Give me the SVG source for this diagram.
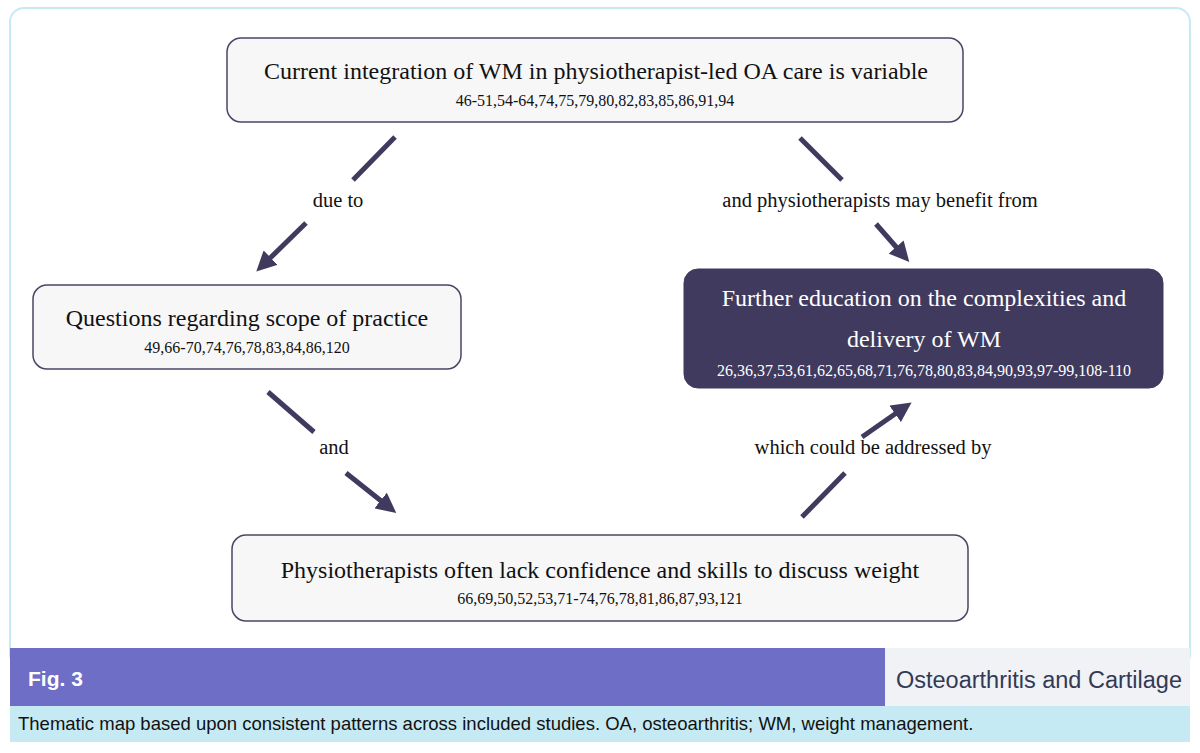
<svg xmlns="http://www.w3.org/2000/svg" width="1200" height="753" viewBox="0 0 1200 753">
<style>
.box{fill:#f7f7f8;stroke:#4a4566;stroke-width:1.5}
.t{font-family:"Liberation Serif",serif;fill:#111;text-anchor:middle}
.big{font-size:24px}.ref{font-size:16px}.lbl{font-size:20.5px}
.w{fill:#fff}
.c{stroke:#3f3a5e;stroke-width:5;fill:none}
</style>
<defs>
<marker id="ah" viewBox="0 0 10 10" refX="6" refY="5" markerWidth="4" markerHeight="4" orient="auto" markerUnits="strokeWidth"><path d="M0,0L10,5L0,10z" fill="#3f3a5e"/></marker>
</defs>
<rect width="1200" height="753" fill="#fff"/>
<rect x="10" y="8" width="1180" height="660" rx="14" fill="#fff" stroke="#c5eaf4" stroke-width="2"/>
<rect x="10" y="648" width="875" height="58" fill="#6e6ec6"/>
<rect x="885" y="648" width="305" height="58" fill="#f1f2f5"/>
<text x="28" y="686" font-family="Liberation Sans,sans-serif" font-size="21" font-weight="bold" fill="#fff">Fig. 3</text>
<text x="1182" y="688" font-family="Liberation Sans,sans-serif" font-size="23.5" fill="#333a55" text-anchor="end">Osteoarthritis and Cartilage</text>
<rect x="10" y="706" width="1180" height="36" fill="#c5eaf4"/>
<text x="18" y="730" font-family="Liberation Sans,sans-serif" font-size="18.5" fill="#111">Thematic map based upon consistent patterns across included studies. OA, osteoarthritis; WM, weight management.</text>
<g id="n1"><rect class="box" x="227" y="38" width="736" height="84" rx="14"/>
<text class="t big" x="596" y="79">Current integration of WM in physiotherapist-led OA care is variable</text>
<text class="t ref" x="595" y="106">46-51,54-64,74,75,79,80,82,83,85,86,91,94</text></g>
<g id="n2"><rect class="box" x="33" y="285" width="428" height="84" rx="14"/>
<text class="t big" x="247" y="326">Questions regarding scope of practice</text>
<text class="t ref" x="247" y="353">49,66-70,74,76,78,83,84,86,120</text></g>
<g id="n3"><rect x="684" y="269" width="479" height="119" rx="14" fill="#3f3a5e" stroke="#3f3a5e"/>
<text class="t big w" x="924" y="306">Further education on the complexities and</text>
<text class="t big w" x="924" y="347">delivery of WM</text>
<text class="t ref w" x="924" y="376">26,36,37,53,61,62,65,68,71,76,78,80,83,84,90,93,97-99,108-110</text></g>
<g id="n4"><rect class="box" x="232" y="535" width="736" height="86" rx="14"/>
<text class="t big" x="600" y="578">Physiotherapists often lack confidence and skills to discuss weight</text>
<text class="t ref" x="600" y="604">66,69,50,52,53,71-74,76,78,81,86,87,93,121</text></g>
<g id="connectors">
<line class="c" x1="395" y1="137" x2="353" y2="180"/>
<line class="c" x1="306" y1="223" x2="262" y2="266" marker-end="url(#ah)"/>
<text class="t lbl" x="338" y="207">due to</text>
<line class="c" x1="800" y1="138" x2="842" y2="180"/>
<line class="c" x1="876" y1="224" x2="904" y2="256" marker-end="url(#ah)"/>
<text class="t lbl" x="880" y="207">and physiotherapists may benefit from</text>
<line class="c" x1="268" y1="392" x2="314" y2="432"/>
<line class="c" x1="346" y1="473" x2="390" y2="508" marker-end="url(#ah)"/>
<text class="t lbl" x="334" y="454">and</text>
<line class="c" x1="802" y1="517" x2="845" y2="473"/>
<line class="c" x1="862" y1="437" x2="905" y2="407" marker-end="url(#ah)"/>
<text class="t lbl" x="873" y="454">which could be addressed by</text>
</g>
</svg>
